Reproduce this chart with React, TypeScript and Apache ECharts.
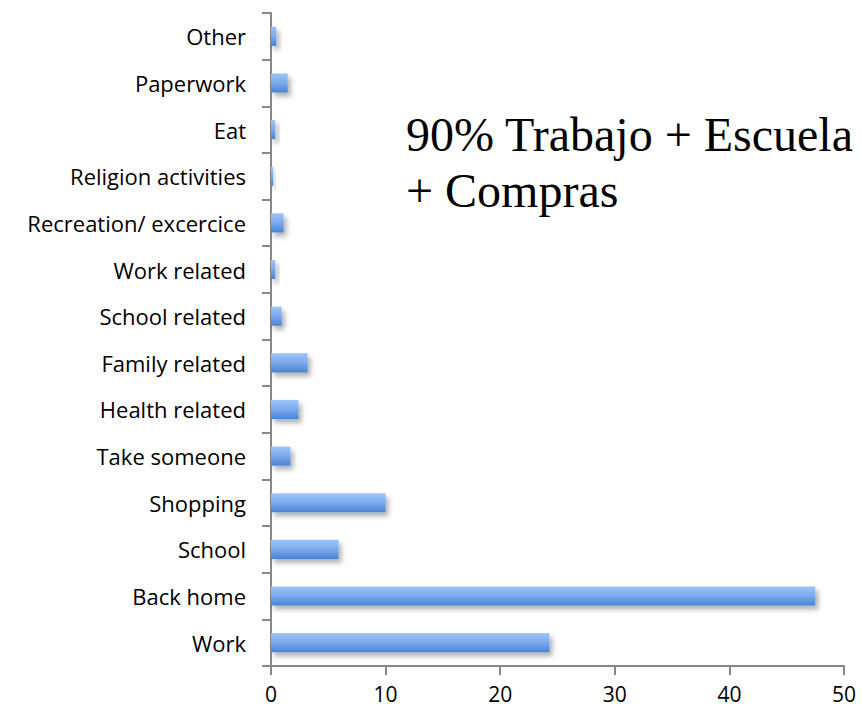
import React, { useEffect, useRef } from "react";
import * as echarts from "echarts";

const categories = [
  "Work",
  "Back home",
  "School",
  "Shopping",
  "Take someone",
  "Health related",
  "Family related",
  "School related",
  "Work related",
  "Recreation/ excercice",
  "Religion activities",
  "Eat",
  "Paperwork",
  "Other",
];
const values = [24.3, 47.5, 5.9, 10.0, 1.7, 2.4, 3.2, 0.93, 0.38, 1.1, 0.2, 0.38, 1.46, 0.47];
const annotationLines = ["90% Trabajo + Escuela", "+ Compras"];

export default function App() {
  const ref = useRef<HTMLDivElement>(null);
  useEffect(() => {
    document.body.style.margin = "0";
    if (!ref.current) return;
    const chart = echarts.init(ref.current, null, { renderer: "svg" });
    chart.setOption({
      animation: false,
      backgroundColor: "#ffffff",
      grid: { left: 271, right: 17, top: 13, bottom: 44, containLabel: false },
      xAxis: {
        type: "value",
        min: 0,
        max: 50,
        interval: 10,
        splitLine: { show: false },
        axisLine: { show: true, lineStyle: { color: "#888888", width: 2 } },
        axisTick: { show: true, length: 9, lineStyle: { color: "#888888", width: 2 } },
        axisLabel: {
          color: "#000000",
          fontSize: 21,
          lineHeight: 22,
          fontFamily: "Open Sans",
          margin: 17,
        },
      },
      yAxis: {
        type: "category",
        data: categories,
        axisLine: { show: true, lineStyle: { color: "#888888", width: 2 } },
        axisTick: { show: true, length: 9, lineStyle: { color: "#888888", width: 2 } },
        axisLabel: {
          color: "#000000",
          fontSize: 22,
          fontFamily: "Open Sans",
          margin: 25,
        },
      },
      series: [
        {
          type: "bar",
          data: values,
          barCategoryGap: "59%",
          itemStyle: {
            color: new echarts.graphic.LinearGradient(0, 0, 0, 1, [
              { offset: 0, color: "#9fc5f8" },
              { offset: 0.5, color: "#7aa9ec" },
              { offset: 1, color: "#4a83d4" },
            ]),
            shadowBlur: 5,
            shadowColor: "rgba(0,0,0,0.3)",
            shadowOffsetX: 3,
            shadowOffsetY: 4,
          },
        },
      ],
      graphic: [
        {
          type: "text",
          left: 406,
          top: 106,
          style: {
            text: annotationLines.join("\n"),
            fontFamily: "Liberation Serif",
            fontSize: 48,
            lineHeight: 56,
            fill: "#000000",
          },
        },
      ],
    });
    return () => chart.dispose();
  }, []);
  return <div ref={ref} style={{ width: 861, height: 710 }} />;
}
